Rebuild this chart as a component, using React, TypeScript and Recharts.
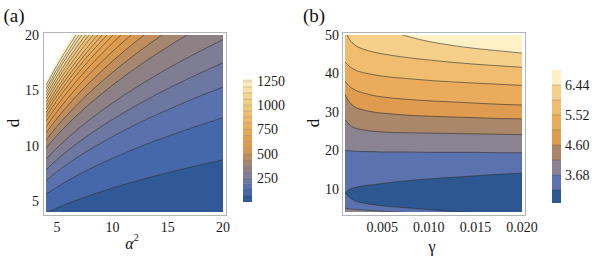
import React from 'react';
import { ComposedChart, Area, XAxis, YAxis, CartesianGrid, BarChart, Bar, ReferenceLine } from 'recharts';

// panel (a): contour lines, d read at each alpha^2 (levels 62.5 ... 1250, last row = edge of plotted range)
const alphaSq = [4, 5, 6, 7, 8, 10, 12, 14, 16, 18, 20];
const contoursA = [
  [3.9, 4.36, 4.78, 5.16, 5.51, 6.17, 6.75, 7.3, 7.8, 8.27, 8.72],
  [5.6, 6.26, 6.86, 7.41, 7.92, 8.85, 9.7, 10.48, 11.2, 11.88, 12.52],
  [6.84, 7.65, 8.38, 9.05, 9.67, 10.81, 11.85, 12.8, 13.68, 14.51, 15.29],
  [7.82, 8.74, 9.58, 10.35, 11.06, 12.36, 13.54, 14.63, 15.64, 16.59, 17.49],
  [8.76, 9.79, 10.73, 11.59, 12.39, 13.85, 15.17, 16.39, 17.52, 18.58, 19.59],
  [9.77, 10.93, 11.97, 12.93, 13.82, 15.45, 16.93, 18.29, 19.55, 20.74, 21.85],
  [10.51, 11.75, 12.87, 13.9, 14.86, 16.61, 18.2, 19.66, 21.02, 22.29, 23.5],
  [11.15, 12.47, 13.66, 14.76, 15.77, 17.63, 19.32, 20.87, 22.31, 23.66, 24],
  [11.7, 13.08, 14.33, 15.48, 16.54, 18.5, 20.26, 21.89, 23.4, 24, 24],
  [12.18, 13.62, 14.92, 16.12, 17.23, 19.26, 21.1, 22.79, 24, 24, 24],
  [12.61, 14.1, 15.44, 16.68, 17.83, 19.94, 21.84, 23.59, 24, 24, 24],
  [12.97, 14.5, 15.88, 17.16, 18.34, 20.5, 22.46, 24, 24, 24, 24],
  [13.29, 14.85, 16.27, 17.58, 18.79, 21.01, 23.01, 24, 24, 24, 24],
  [13.59, 15.2, 16.65, 17.98, 19.22, 21.49, 23.55, 24, 24, 24, 24],
  [13.93, 15.57, 17.05, 18.42, 19.69, 22.02, 24, 24, 24, 24, 24],
  [14.24, 15.92, 17.44, 18.84, 20.14, 22.52, 24, 24, 24, 24, 24],
  [14.54, 16.25, 17.8, 19.23, 20.55, 22.98, 24, 24, 24, 24, 24],
  [14.85, 16.6, 18.19, 19.65, 21.0, 23.48, 24, 24, 24, 24, 24],
  [15.14, 16.92, 18.53, 20.02, 21.4, 23.93, 24, 24, 24, 24, 24],
  [15.44, 17.26, 18.91, 20.43, 21.83, 24, 24, 24, 24, 24, 24],
  [15.82, 17.68, 19.37, 20.92, 22.36, 24, 24, 24, 24, 24, 24],
];
const ticksA = [5, 10, 15, 20];
const cbarBoundsA = [0, 62.5, 125, 187.5, 250, 312.5, 375, 437.5, 500, 562.5, 625, 687.5, 750, 812.5, 875, 937.5, 1000, 1062.5, 1125, 1187.5, 1250, 1270];
const cbarTicksA = [250, 500, 750, 1000, 1250];

// panel (b): contour lines, d read at each gamma (top to bottom)
const gammaVals = [0.001, 0.0015, 0.002, 0.003, 0.004, 0.005, 0.0075, 0.01, 0.0125, 0.015, 0.0175, 0.02];
const lineB644 = [59, 57.5, 56, 54, 52.8, 51.8, 49.8, 48.3, 47.3, 46.5, 45.9, 45.3];
const lineB598 = [51.5, 48.8, 47.5, 46.3, 45.6, 45.1, 44.2, 43.5, 42.9, 42.4, 42.0, 41.6];
const lineB552 = [43.0, 41.8, 41.0, 40.2, 39.7, 39.3, 38.7, 38.2, 37.8, 37.5, 37.2, 36.9];
const lineB506 = [38.0, 36.6, 35.8, 34.9, 34.3, 33.9, 33.3, 32.9, 32.6, 32.3, 32.0, 31.8];
const lineB460 = [34.5, 32.5, 31.4, 30.5, 30.0, 29.7, 29.2, 28.9, 28.7, 28.5, 28.3, 28.2];
const lineB414 = [28.0, 26.6, 25.9, 25.3, 25.0, 24.8, 24.6, 24.5, 24.4, 24.3, 24.2, 24.1];
const lineB368 = [20.0, 19.9, 19.8, 19.7, 19.7, 19.6, 19.6, 19.5, 19.5, 19.5, 19.4, 19.4];
const ovalTopB = [8.9, 9.9, 10.3, 10.8, 11.1, 11.4, 12.1, 12.6, 13.0, 13.4, 13.8, 14.1];
const ovalBottomB = [8.9, 7.8, 7.0, 6.3, 5.9, 5.6, 5.1, 4.6, 4.15, 3.8, 3.5, 3.2];
const cornerB = [5.0, 4.8, 4.7, 4.5, 4.35, 4.2, 3.9, 3.7, 3.5, 3.4, 3.3, 3.2];
const ticksBx = [0.005, 0.01, 0.015, 0.02];
const ticksBy = [10, 20, 30, 40, 50];
const cbarBoundsB = [2.82, 3.22, 3.68, 4.14, 4.6, 5.06, 5.52, 5.98, 6.44, 6.9];
const cbarTicksB = [3.68, 4.6, 5.52, 6.44];

const bandColorsB = ['#2c5791', '#5a72ae', '#8a8391', '#aa8768', '#df9b4f', '#eaac5c', '#f0bd70', '#f6d08a', '#fdf1c5'];

const gradStops: [number, string][] = [
  [0, '#27528e'], [0.07, '#4466a9'], [0.12, '#5871ad'], [0.17, '#6b77a3'], [0.22, '#7f7c95'],
  [0.27, '#8e8185'], [0.32, '#a5866f'], [0.37, '#c08d5e'], [0.42, '#d69752'], [0.47, '#df9c50'],
  [0.55, '#e6a655'], [0.65, '#ecb465'], [0.75, '#f1c377'], [0.85, '#f5d491'], [0.93, '#f9e4ae'], [1, '#fdf3c8'],
];

function grad(t: number) {
  let i = 0;
  while (i < gradStops.length - 2 && t > gradStops[i + 1][0]) i++;
  const [t0, c0] = gradStops[i];
  const [t1, c1] = gradStops[i + 1];
  const f = Math.max(0, Math.min(1, (t - t0) / (t1 - t0)));
  const a = parseInt(c0.slice(1), 16);
  const b = parseInt(c1.slice(1), 16);
  const ch = (s: number) => Math.round(((a >> s) & 255) * (1 - f) + ((b >> s) & 255) * f);
  return `rgb(${ch(16)},${ch(8)},${ch(0)})`;
}

const topA = cbarBoundsA[cbarBoundsA.length - 1];
const bandColorsA = cbarBoundsA.slice(0, -1).map((v, i) => grad((v + cbarBoundsA[i + 1]) / 2 / topA));

const rowsA = alphaSq.map((x, i) => {
  const row: Record<string, number> = { x };
  contoursA.forEach((line, k) => { row[`c${k}`] = line[i]; });
  return row;
});

const linesB = [lineB644, lineB598, lineB552, lineB506, lineB460, lineB414, lineB368, ovalTopB, ovalBottomB, cornerB];
const fillsB = [7, 6, 5, 4, 3, 2, 1, 0, 1, 2];
const rowsB = gammaVals.map((x, i) => {
  const row: Record<string, number> = { x };
  linesB.forEach((line, k) => { row[`l${k}`] = line[i]; });
  return row;
});

const segRow = (bounds: number[]) => {
  const row: Record<string, number | string> = { name: 'bar' };
  bounds.slice(0, -1).forEach((v, i) => { row[`s${i}`] = i === 0 ? bounds[1] : bounds[i + 1] - v; });
  return [row];
};

const serif = "'Liberation Serif', Tinos, 'Times New Roman', 'DejaVu Serif', 'Noto Serif', serif";
const tickStyle = { fontSize: 14, fill: '#1a1a1a', fontFamily: serif };
const lineColor = '#2f2f2f';

const abs = (left: number, top: number, extra: React.CSSProperties = {}): React.CSSProperties => ({
  position: 'absolute', left, top, ...extra,
});

const Title: React.FC<{ x: number; y: number; size: number; rotate?: boolean; children: React.ReactNode }> = ({ x, y, size, rotate, children }) => (
  <div style={abs(x, y, {
    transform: `translate(-50%, -50%)${rotate ? ' rotate(-90deg)' : ''}`,
    fontFamily: serif, fontSize: size, lineHeight: 1, color: '#111', whiteSpace: 'nowrap',
  })}>{children}</div>
);

const Frame: React.FC<{ left: number }> = ({ left }) => (
  <div style={abs(left, 32, { width: 184, height: 184, border: '1px solid #b4b4b4', boxSizing: 'border-box', pointerEvents: 'none' })} />
);

export default function App() {
  return (
    <div style={{ position: 'absolute', left: 0, top: 0, width: 597, height: 259, background: '#fff', overflow: 'hidden', fontFamily: serif }}>
      {/* panel (a) */}
      <div style={abs(0, 0)}>
        <ComposedChart width={240} height={259} data={rowsA} margin={{ top: 35, right: 17, bottom: 17, left: 0 }}>
          <XAxis type="number" dataKey="x" domain={[4, 20]} ticks={ticksA} allowDataOverflow
            axisLine={false} tickLine={false} tickMargin={4} height={30} tick={tickStyle} />
          <YAxis type="number" domain={[4, 20]} ticks={ticksA} allowDataOverflow
            axisLine={false} tickLine={false} tickMargin={1} width={46} tick={tickStyle} />
          {contoursA.map((_, k) => contoursA.length - 1 - k).map((k) => (
            <Area key={k} type="monotone" dataKey={`c${k}`} fill={bandColorsA[k]} fillOpacity={1}
              stroke={k === contoursA.length - 1 ? 'none' : lineColor} strokeWidth={0.8} strokeOpacity={0.7}
              isAnimationActive={false} dot={false} activeDot={false} />
          ))}
        </ComposedChart>
      </div>
      <Frame left={43} />
      <div style={abs(243, 0)}>
        <BarChart width={60} height={259} data={segRow(cbarBoundsA)} margin={{ top: 79, right: 0, bottom: 57, left: 0 }}
          barCategoryGap={0} barGap={0}>
          <XAxis dataKey="name" hide />
          <YAxis orientation="right" type="number" domain={[0, topA]} ticks={cbarTicksA} allowDataOverflow
            axisLine={false} tickLine={false} tickSize={0} tickMargin={5} width={51} tick={tickStyle} />
          {bandColorsA.map((c, i) => (
            <Bar key={i} dataKey={`s${i}`} stackId="cb" fill={c} isAnimationActive={false} />
          ))}
          {cbarBoundsA.slice(1, -1).map((v) => (
            <ReferenceLine key={v} y={v} stroke={lineColor} strokeOpacity={0.35} strokeWidth={0.6} />
          ))}
        </BarChart>
      </div>

      {/* panel (b) */}
      <div style={abs(300, 0)}>
        <ComposedChart width={240} height={259} data={rowsB} margin={{ top: 35, right: 18, bottom: 17, left: 0 }}>
          <CartesianGrid horizontal={false} vertical={false} fill={bandColorsB[8]} />
          <XAxis type="number" dataKey="x" domain={[0.001, 0.02]} ticks={ticksBx} allowDataOverflow
            tickFormatter={(v: number) => v.toFixed(3)}
            axisLine={false} tickLine={false} tickMargin={4} height={30} tick={tickStyle} />
          <YAxis type="number" domain={[4, 50]} ticks={ticksBy} allowDataOverflow
            axisLine={false} tickLine={false} tickMargin={0} width={45} tick={tickStyle} />
          {linesB.map((_, k) => (
            <Area key={k} type="monotone" dataKey={`l${k}`} fill={bandColorsB[fillsB[k]]} fillOpacity={1}
              stroke={lineColor} strokeWidth={0.8} strokeOpacity={0.75}
              isAnimationActive={false} dot={false} activeDot={false} />
          ))}
        </ComposedChart>
      </div>
      <Frame left={342} />
      <div style={abs(552, 0)}>
        <BarChart width={45} height={259} data={segRow(cbarBoundsB)} margin={{ top: 70, right: 0, bottom: 56, left: 0 }}
          barCategoryGap={0} barGap={0}>
          <XAxis dataKey="name" hide />
          <YAxis orientation="right" type="number" domain={[2.82, 6.9]} ticks={cbarTicksB} allowDataOverflow
            tickFormatter={(v: number) => v.toFixed(2)}
            axisLine={false} tickLine={false} tickSize={0} tickMargin={4} width={36} tick={tickStyle} />
          {bandColorsB.map((c, i) => (
            <Bar key={i} dataKey={`s${i}`} stackId="cb" fill={c} isAnimationActive={false} />
          ))}
          {cbarBoundsB.slice(1, -1).map((v) => (
            <ReferenceLine key={v} y={v} stroke={lineColor} strokeOpacity={0.4} strokeWidth={0.6} />
          ))}
        </BarChart>
      </div>

      <Title x={14} y={15} size={19}>(a)</Title>
      <Title x={314} y={15} size={19}>(b)</Title>
      <Title x={13} y={123} size={17} rotate>d</Title>
      <Title x={313} y={123} size={17} rotate>d</Title>
      <Title x={132} y={243} size={16}>
        <span style={{ fontStyle: 'italic' }}>α</span>
        <sup style={{ fontSize: 10, position: 'relative', top: -1 }}>2</sup>
      </Title>
      <Title x={432} y={247} size={16}>γ</Title>
    </div>
  );
}
